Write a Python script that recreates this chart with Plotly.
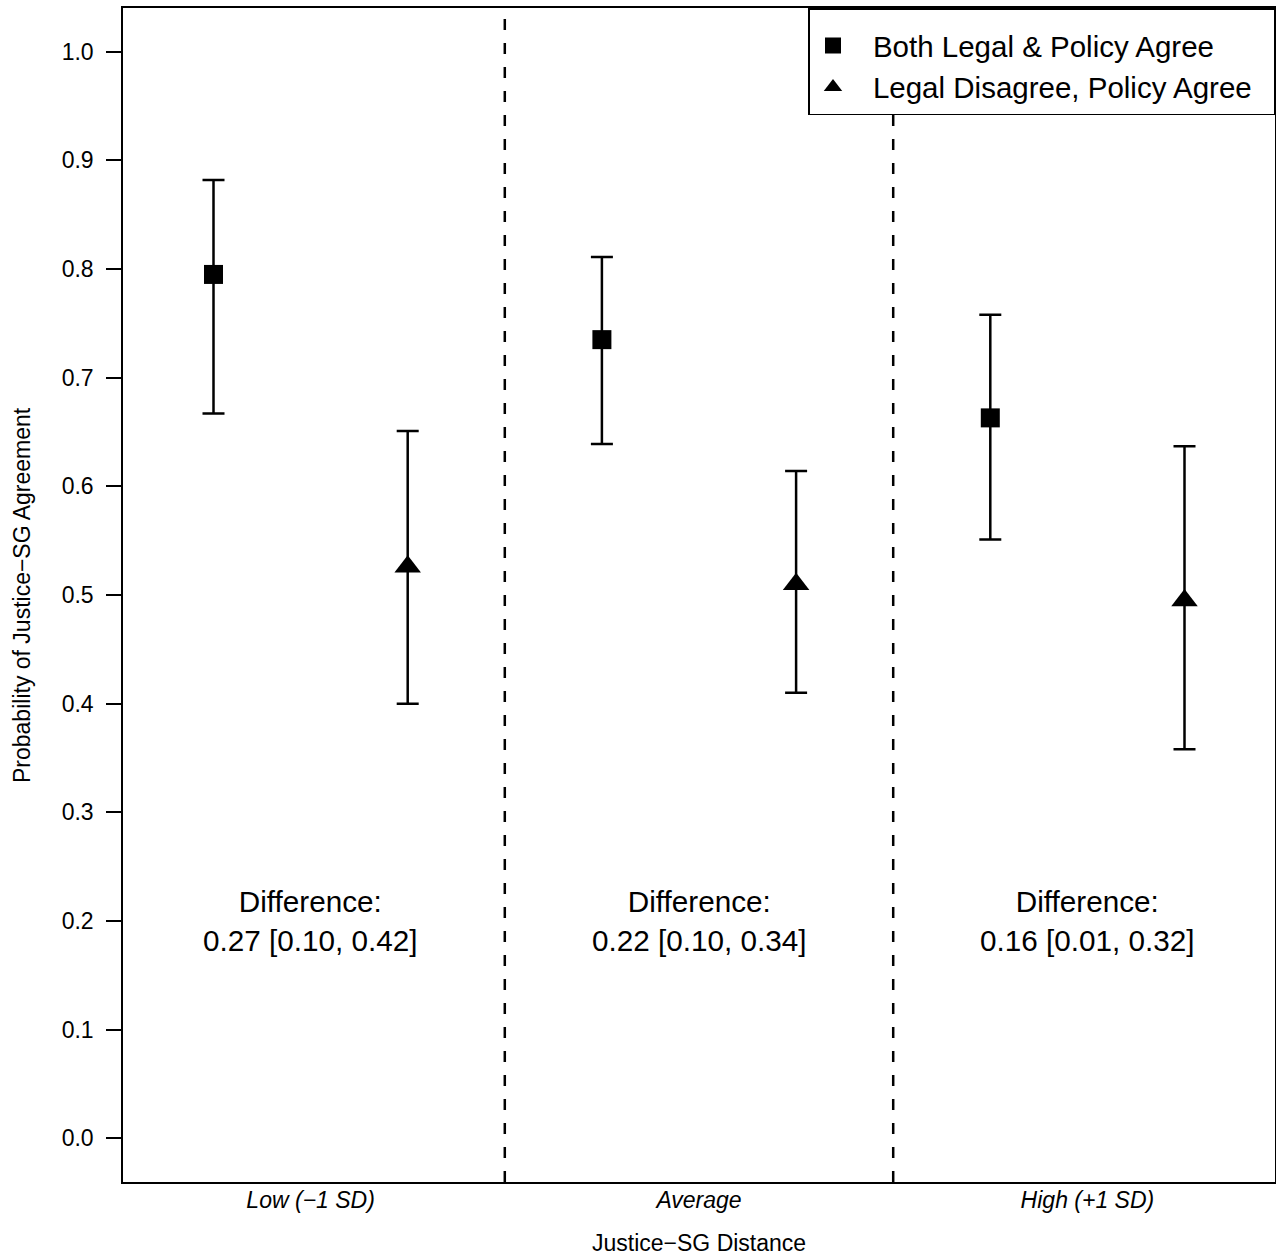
import plotly.graph_objects as go

# ---- data ----
categories = ["Low (\u22121 SD)", "Average", "High (+1 SD)"]
cat_pos = [1, 2, 3]

both_name = "Both Legal & Policy Agree"
both_est = [0.795, 0.735, 0.663]
both_lo = [0.667, 0.639, 0.551]
both_hi = [0.882, 0.811, 0.758]

dis_name = "Legal Disagree, Policy Agree"
dis_est = [0.526, 0.510, 0.495]
dis_lo = [0.400, 0.410, 0.358]
dis_hi = [0.651, 0.614, 0.637]

diff_text = ["0.27 [0.10, 0.42]", "0.22 [0.10, 0.34]", "0.16 [0.01, 0.32]"]
diff_label_y = 0.20

y_ticks = [0.0, 0.1, 0.2, 0.3, 0.4, 0.5, 0.6, 0.7, 0.8, 0.9, 1.0]

x_title = "Justice\u2212SG Distance"
y_title = "Probability of Justice\u2212SG Agreement"

# ---- layout constants ----
FONT = "Liberation Sans, Arial, Helvetica, sans-serif"
offset = 0.25
W, H = 1276, 1255
ML, MR, MT, MB = 123, 1, 8, 73

fig = go.Figure()

def add_series(est, lo, hi, name, symbol, size, dx):
    fig.add_trace(go.Scatter(
        x=[c + dx for c in cat_pos],
        y=est,
        mode="markers",
        name="\u00a0\u00a0" + name + "\u00a0\u00a0",
        marker=dict(symbol=symbol, size=size, color="black", line=dict(width=0)),
        error_y=dict(
            type="data", symmetric=False,
            array=[h - e for h, e in zip(hi, est)],
            arrayminus=[e - l for e, l in zip(est, lo)],
            color="black", thickness=2.5, width=11,
        ),
    ))

add_series(both_est, both_lo, both_hi, both_name, "square", 19, -offset)
add_series(dis_est, dis_lo, dis_hi, dis_name, "triangle-up", 23, offset)

# dashed separators between categories
for a, b in zip(cat_pos[:-1], cat_pos[1:]):
    fig.add_shape(type="line", xref="x", yref="paper",
                  x0=(a + b) / 2, x1=(a + b) / 2, y0=0, y1=1,
                  line=dict(color="black", width=2.5, dash="11px,13px"),
                  layer="above")

# difference annotations
for c, t in zip(cat_pos, diff_text):
    fig.add_annotation(x=c, y=diff_label_y, xref="x", yref="y",
                       text="Difference:<br>" + t, showarrow=False,
                       font=dict(family=FONT, size=29.7, color="black"),
                       align="center")

# axis titles
fig.add_annotation(x=0.5, y=0, xref="paper", yref="paper", yanchor="middle",
                   yshift=-61, text=x_title, showarrow=False,
                   font=dict(family=FONT, size=23, color="black"))
fig.add_annotation(x=0, y=0.5, xref="paper", yref="paper", xanchor="center",
                   xshift=-101, text=y_title, showarrow=False, textangle=-90,
                   font=dict(family=FONT, size=23, color="black"))

fig.update_layout(
    width=W, height=H,
    margin=dict(l=ML, r=MR, t=MT, b=MB, autoexpand=False),
    paper_bgcolor="white", plot_bgcolor="white",
    font=dict(family=FONT, color="black"),
    showlegend=True,
    legend=dict(
        x=1, y=1, xanchor="right", yanchor="top",
        bgcolor="white", bordercolor="black", borderwidth=1.5,
        font=dict(family=FONT, size=29.5, color="black"),
        itemwidth=37,
        title=dict(text="\u00a0", font=dict(size=8)),
    ),
    xaxis=dict(
        range=[0.517, 3.483], tickvals=cat_pos, ticktext=categories,
        tickfont=dict(family=FONT, size=23, color="black", style="italic"),
        ticks="", showgrid=False, zeroline=False,
        showline=True, linecolor="black", linewidth=1.5, mirror=True,
        ticklabelstandoff=-3,
    ),
    yaxis=dict(
        range=[-0.0402, 1.0402], tickvals=y_ticks,
        ticktext=[f"{v:.1f}" for v in y_ticks],
        tickfont=dict(family=FONT, size=23, color="black"),
        ticks="outside", ticklen=15, tickwidth=1.5, tickcolor="black",
        showgrid=False, zeroline=False,
        showline=True, linecolor="black", linewidth=1.5, mirror=True,
        ticklabelstandoff=8,
    ),
)

fig.write_html(
    "out.html",
    config={"displayModeBar": False},
    post_script="document.body.style.margin='0';document.body.style.overflow='hidden';",
)
